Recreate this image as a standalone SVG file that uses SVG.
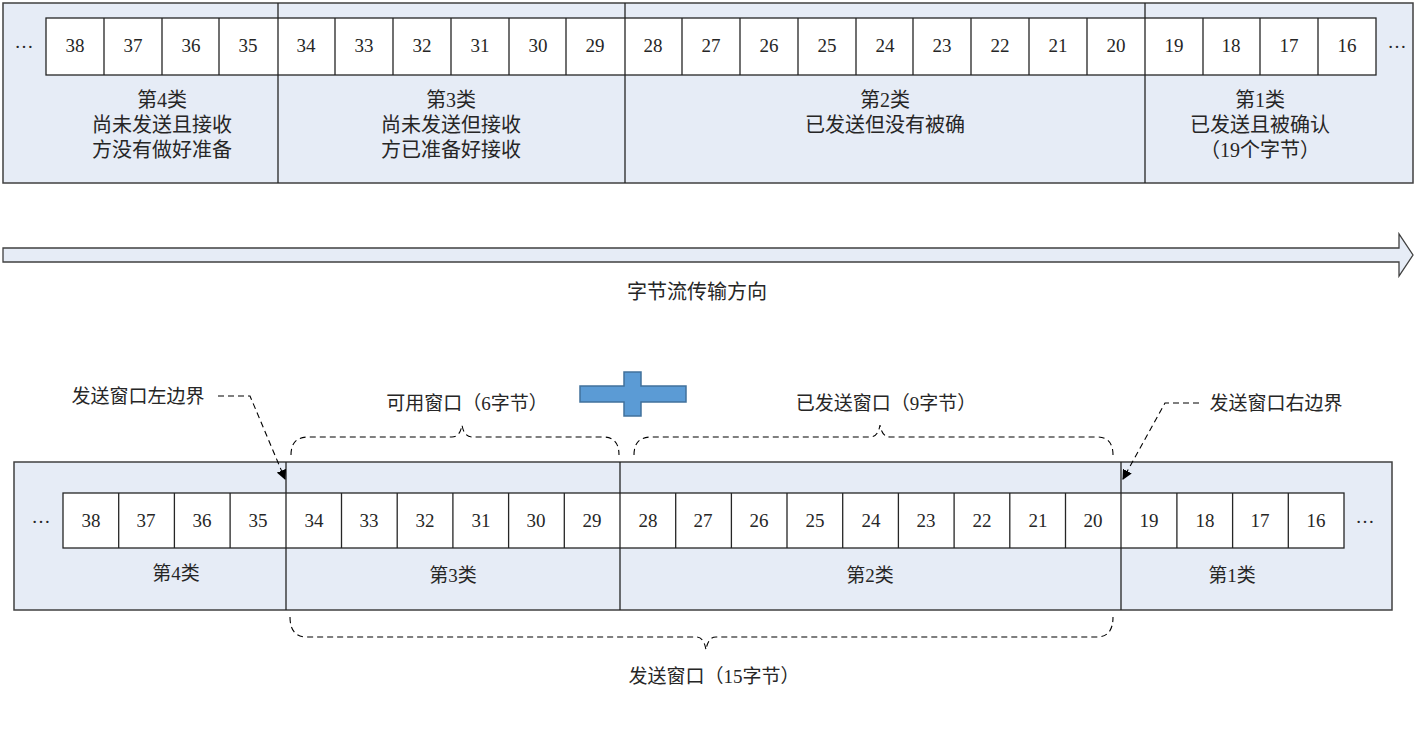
<svg xmlns="http://www.w3.org/2000/svg" width="1417" height="756" viewBox="0 0 1417 756">
<style>
.bg{fill:#fff}
.panel{fill:#e6ecf6;stroke:#404040;stroke-width:1.5}
.cellrow{fill:#fff;stroke:#262626;stroke-width:1.3}
.div{stroke:#262626;stroke-width:1.3;fill:none}
.t{font-family:"Liberation Serif","Noto Sans CJK SC",serif;fill:#262626;text-anchor:middle}
.n{font-size:19px}
.c{font-size:19px}
.c20{font-size:20px}
.dash{fill:none;stroke:#000;stroke-width:1.1;stroke-dasharray:6 4}
</style>
<defs>
<marker id="ah" viewBox="0 0 10 10" refX="9" refY="5" markerWidth="10" markerHeight="10" markerUnits="userSpaceOnUse" orient="auto">
<path d="M0,0 L10,5 L0,10 z" fill="#000"/>
</marker>
</defs>
<rect class="bg" x="0" y="0" width="1417" height="756"/>

<g id="top-panel">
<rect class="panel" x="3" y="3" width="1410" height="180"/>
<rect class="cellrow" x="46" y="18" width="1330" height="57"/>
<path class="div" d="M104,18V75 M162,18V75 M219,18V75 M335,18V75 M393,18V75 M451,18V75 M509,18V75 M566,18V75 M682,18V75 M740,18V75 M798,18V75 M856,18V75 M913,18V75 M971,18V75 M1029,18V75 M1087,18V75 M1203,18V75 M1260,18V75 M1318,18V75"/>
<path class="div" d="M278,3V183 M625,3V183 M1145,3V183"/>
<g class="t n">
<text x="24" y="48">…</text>
<text x="75" y="52">38</text><text x="133" y="52">37</text><text x="191" y="52">36</text><text x="248" y="52">35</text>
<text x="306" y="52">34</text><text x="364" y="52">33</text><text x="422" y="52">32</text><text x="480" y="52">31</text><text x="538" y="52">30</text><text x="595" y="52">29</text>
<text x="653" y="52">28</text><text x="711" y="52">27</text><text x="769" y="52">26</text><text x="827" y="52">25</text><text x="885" y="52">24</text><text x="942" y="52">23</text><text x="1000" y="52">22</text><text x="1058" y="52">21</text><text x="1116" y="52">20</text>
<text x="1174" y="52">19</text><text x="1231" y="52">18</text><text x="1289" y="52">17</text><text x="1347" y="52">16</text>
<text x="1397" y="48">…</text>
</g>
<g class="t c20">
<text x="162" y="107">第4类</text><text x="162" y="132">尚未发送且接收</text><text x="162" y="157">方没有做好准备</text>
<text x="451" y="107">第3类</text><text x="451" y="132">尚未发送但接收</text><text x="451" y="157">方已准备好接收</text>
<text x="885" y="107">第2类</text><text x="885" y="132">已发送但没有被确</text>
<text x="1260" y="107">第1类</text><text x="1260" y="132">已发送且被确认</text><text x="1260" y="157">（19个字节）</text>
</g>
</g>

<g id="flow-arrow">
<polygon points="3,248 1399,248 1399,234 1413,255 1399,276 1399,262 3,262" fill="#e6ecf6" stroke="#404040" stroke-width="1.3"/>
<text class="t c20" x="697" y="299">字节流传输方向</text>
</g>

<g id="plus">
<path d="M580,386 H624 V372 H641 V386 H686 V402 H641 V416 H624 V402 H580 Z" fill="#5b9bd5" stroke="#41719c" stroke-width="1.5"/>
</g>

<g id="bottom-panel">
<rect class="panel" x="14" y="462" width="1378" height="148"/>
<rect class="cellrow" x="63" y="493" width="1281" height="55"/>
<path class="div" d="M118.7,493V548 M174.4,493V548 M230.1,493V548 M341.5,493V548 M397.2,493V548 M452.9,493V548 M508.6,493V548 M564.3,493V548 M675.7,493V548 M731.4,493V548 M787,493V548 M842.7,493V548 M898.4,493V548 M954.1,493V548 M1009.8,493V548 M1065.5,493V548 M1176.9,493V548 M1232.6,493V548 M1288.3,493V548"/>
<path class="div" d="M286,462V610 M620,462V610 M1121,462V610"/>
<g class="t n">
<text x="41" y="523">…</text>
<text x="91" y="527">38</text><text x="146" y="527">37</text><text x="202" y="527">36</text><text x="258" y="527">35</text>
<text x="314" y="527">34</text><text x="369" y="527">33</text><text x="425" y="527">32</text><text x="481" y="527">31</text><text x="536" y="527">30</text><text x="592" y="527">29</text>
<text x="648" y="527">28</text><text x="703" y="527">27</text><text x="759" y="527">26</text><text x="815" y="527">25</text><text x="871" y="527">24</text><text x="926" y="527">23</text><text x="982" y="527">22</text><text x="1038" y="527">21</text><text x="1093" y="527">20</text>
<text x="1149" y="527">19</text><text x="1205" y="527">18</text><text x="1260" y="527">17</text><text x="1316" y="527">16</text>
<text x="1365" y="523">…</text>
</g>
<g class="t c">
<text x="176" y="580">第4类</text>
<text x="453" y="582">第3类</text>
<text x="870" y="582">第2类</text>
<text x="1232" y="582">第1类</text>
</g>
</g>

<g id="labels" class="t c">
<text x="138" y="403">发送窗口左边界</text>
<text x="467" y="410">可用窗口（6字节）</text>
<text x="886" y="410">已发送窗口（9字节）</text>
<text x="1276" y="410">发送窗口右边界</text>
<text x="714" y="683">发送窗口（15字节）</text>
</g>

<g id="connectors">
<path class="dash" d="M218,396 L250,396 L285,479" marker-end="url(#ah)"/>
<path class="dash" d="M1199,403 L1165,403 L1123,479" marker-end="url(#ah)"/>
<path class="dash" d="M291,455 Q291,437 308,437 L452,437 Q460,437 462,425 Q464,437 472,437 L603,437 Q619,437 619,455"/>
<path class="dash" d="M634,455 Q634,437 651,437 L870,437 Q878,437 880,425 Q882,437 890,437 L1097,437 Q1113,437 1113,455"/>
<path class="dash" d="M290,617 Q290,637 307,637 L696,637 Q704,637 706,650 Q708,637 716,637 L1097,637 Q1113,637 1113,617"/>
</g>
</svg>
